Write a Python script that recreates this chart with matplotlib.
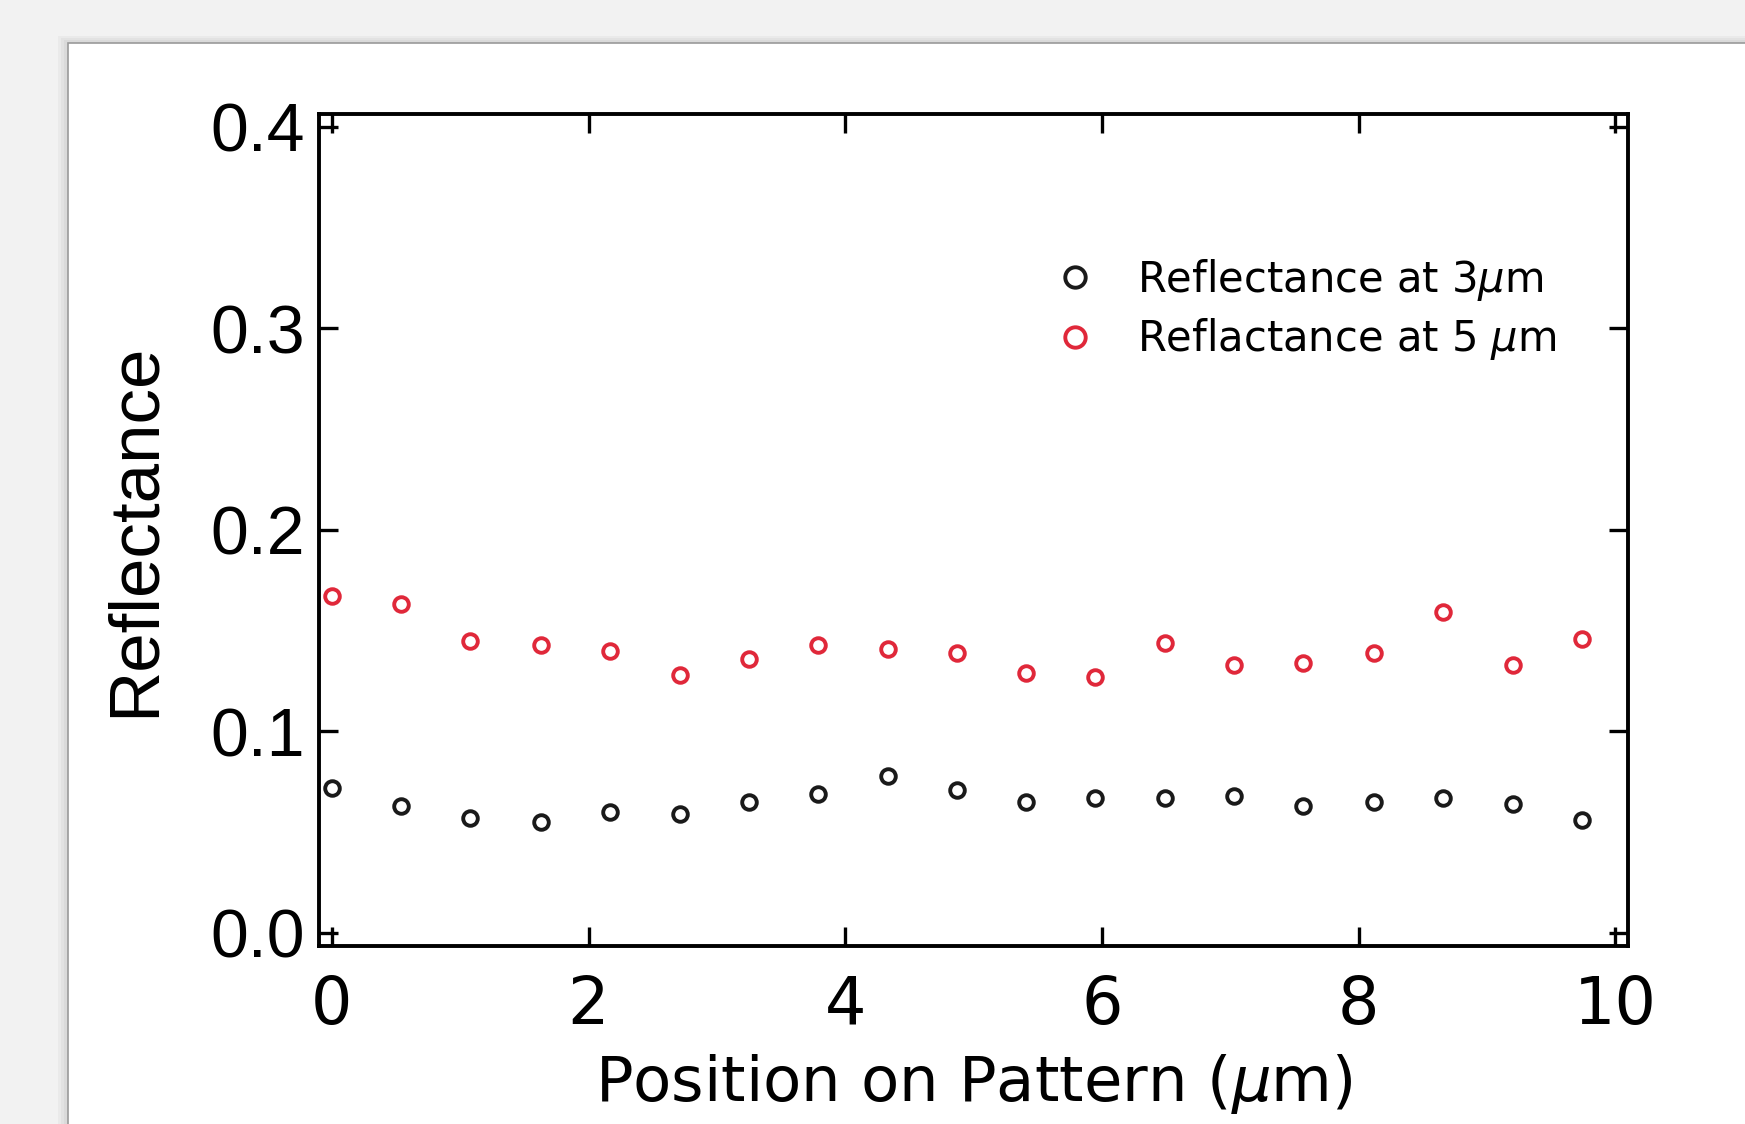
import matplotlib
matplotlib.use("Agg")
import matplotlib.pyplot as plt
from matplotlib.patches import Rectangle

# Data
positions = [0.0, 0.54, 1.08, 1.63, 2.17, 2.71, 3.25, 3.79, 4.33, 4.87,
             5.41, 5.95, 6.49, 7.03, 7.57, 8.12, 8.66, 9.20, 9.74]
refl_3um = [0.072, 0.063, 0.057, 0.055, 0.060, 0.059, 0.065, 0.069, 0.078, 0.071,
            0.065, 0.067, 0.067, 0.068, 0.063, 0.065, 0.067, 0.064, 0.056]
refl_5um = [0.167, 0.163, 0.145, 0.143, 0.140, 0.128, 0.136, 0.143, 0.141, 0.139,
            0.129, 0.127, 0.144, 0.133, 0.134, 0.139, 0.159, 0.133, 0.146]
x_ticks = [0, 2, 4, 6, 8, 10]
y_ticks = [0.0, 0.1, 0.2, 0.3, 0.4]

plt.rcParams["mathtext.fontset"] = "dejavusans"

W, H = 1745, 1124
fig = plt.figure(figsize=(W / 100, H / 100), dpi=100)
fig.patch.set_facecolor("#f2f2f2")

# white card with soft shadow
for i, a in enumerate([0.03, 0.03, 0.03]):
    fig.patches.append(Rectangle(((68 - 4 - 3 * i) / W, 0), 1, (H - 43 + 3 + 2 * i) / H,
                                 transform=fig.transFigure, facecolor="black",
                                 alpha=a, edgecolor="none", zorder=0))
fig.patches.append(Rectangle((68 / W, -0.01), 1, (H - 43) / H + 0.01,
                             transform=fig.transFigure, facecolor="white",
                             edgecolor="#9a9a9a", linewidth=1.2, zorder=1))

ax = fig.add_axes([319 / W, 1 - 946 / H, (1628 - 319) / W, (946 - 113.5) / H])
ax.set_zorder(2)
ax.set_facecolor("white")

ax.plot(positions, refl_3um, linestyle="none", marker="o", markersize=10.5,
        markerfacecolor="none", markeredgecolor="#1a1a1a", markeredgewidth=2.8,
        label="Reflectance at 3$\\mu$m")
ax.plot(positions, refl_5um, linestyle="none", marker="o", markersize=10.5,
        markerfacecolor="none", markeredgecolor="#e0283a", markeredgewidth=2.8,
        label="Reflactance at 5 $\\mu$m")

ax.set_xlim(-0.1, 10.1)
ax.set_ylim(-0.0065, 0.4065)
ax.set_xticks(x_ticks)
ax.set_yticks(y_ticks)
ax.set_yticklabels([f"{v:.1f}" for v in y_ticks])

for s in ax.spines.values():
    s.set_linewidth(2.8)
ax.tick_params(direction="in", length=14, width=2.4, top=True, right=True)
ax.tick_params(axis="y", labelsize=49, pad=10)
ax.tick_params(axis="x", labelsize=47, pad=20)
for lab in ax.get_yticklabels():
    lab.set_family("Liberation Sans")
for lab in ax.get_xticklabels():
    lab.set_family("DejaVu Sans")

ax.set_ylabel("Reflectance", fontsize=51, family="Liberation Sans", labelpad=30)
ax.set_xlabel("Position on Pattern ($\\mu$m)", fontsize=45, family="DejaVu Sans",
              labelpad=10)

ax.legend(loc="upper left", bbox_to_anchor=(0.552, 0.853), frameon=False,
          handlelength=0.6, handletextpad=1.2, labelspacing=0.33, markerscale=1.4,
          borderpad=0, prop={"family": "DejaVu Sans", "size": 30})

fig.savefig("out.png", dpi=100, facecolor=fig.get_facecolor())
